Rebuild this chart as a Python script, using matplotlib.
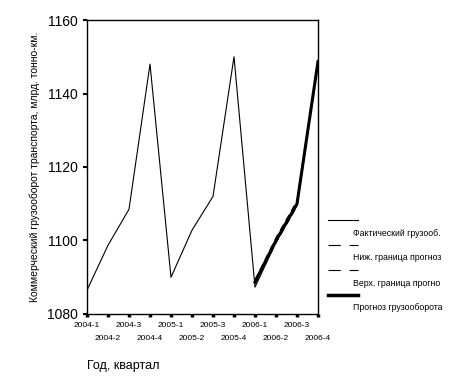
import numpy as np
import matplotlib
matplotlib.use('Agg')
import matplotlib.pyplot as plt
from matplotlib.lines import Line2D

plt.rcParams['font.family'] = ['Liberation Sans', 'DejaVu Sans']

quarters = ['2004-1', '2004-2', '2004-3', '2004-4',
            '2005-1', '2005-2', '2005-3', '2005-4',
            '2006-1', '2006-2', '2006-3', '2006-4']
actual = [1086.5, 1098.7, 1108.5, 1148.0,
          1090.0, 1102.8, 1112.0, 1150.0,
          1087.3, 1099.5, 1109.5, 1148.5]
fc_idx = [8, 9, 10, 11]
forecast = [1088.7, 1100.0, 1110.0, 1148.7]
lower = [1088.2, 1099.3, 1109.3, 1148.2]
upper = [1089.3, 1100.8, 1110.8, 1149.2]
legend_labels = ['Фактический грузооб.', 'Ниж. граница прогноз',
                 'Верх. граница прогно', 'Прогноз грузооборота']

fig = plt.figure(figsize=(4.57, 3.92), dpi=100)
ax = fig.add_axes([87 / 457, 78 / 392, 231 / 457, 294 / 392])

x = np.arange(len(quarters))
ax.plot(x, actual, color='black', lw=0.8)
ax.plot(fc_idx, lower, color='black', lw=0.8, ls=(0, (6, 4)))
ax.plot(fc_idx, upper, color='black', lw=0.8, ls=(0, (6, 4)))
ax.plot(fc_idx, forecast, color='black', lw=2.2)

ax.set_xlim(0, 11)
ax.set_ylim(1080, 1160)
ax.set_yticks([1080, 1100, 1120, 1140, 1160])
# staggered quarter labels: even ones on major ticks, odd ones on minor ticks
ax.set_xticks(x[::2])
ax.set_xticklabels(quarters[::2], fontsize=6)
ax.set_xticks(x[1::2], minor=True)
ax.set_xticklabels(quarters[1::2], minor=True, fontsize=6)
ax.tick_params(axis='y', labelsize=10, direction='out', length=3, width=1.5)
ax.tick_params(axis='x', which='both', direction='out', length=2.5, width=2.5)
ax.tick_params(axis='x', which='major', pad=3)
ax.tick_params(axis='x', which='minor', pad=12.5)
for s in ax.spines.values():
    s.set_linewidth(1.0)

ax.set_ylabel('Коммерческий грузооборот транспорта, млрд. тонно-км.',
              fontsize=7.5, labelpad=5)
fig.text(87 / 457, 1 - 366 / 392, 'Год, квартал', fontsize=9, va='center')

# legend drawn by hand, SPSS style
styles = [dict(lw=0.8, ls='-'), dict(lw=0.8, ls=(0, (11, 8))),
          dict(lw=0.8, ls=(0, (11, 8))), dict(lw=2.5, ls='-')]
for i, (lab, st) in enumerate(zip(legend_labels, styles)):
    yl = 1 - (220 + 25 * i) / 392
    fig.add_artist(Line2D([328 / 457, 358 / 457], [yl, yl], color='black',
                          transform=fig.transFigure, **st))
    fig.text(353 / 457, yl - 13 / 392, lab, fontsize=6.3, va='center')

fig.savefig('out.png', dpi=100)
